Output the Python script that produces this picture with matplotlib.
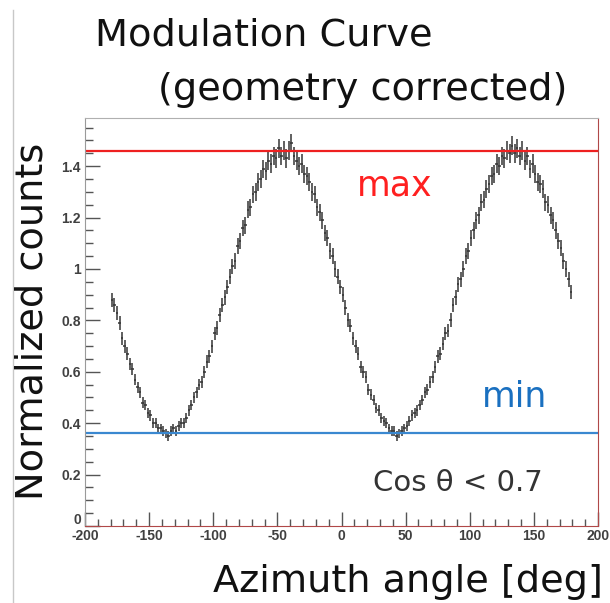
import matplotlib
matplotlib.use("Agg")
import matplotlib.pyplot as plt
from matplotlib.ticker import MultipleLocator, FormatStrFormatter, FuncFormatter
from matplotlib.lines import Line2D
import numpy as np

plt.rcParams['axes.unicode_minus'] = False

# azimuth bins, 2 deg wide, centres from -179 to 179
angle = np.arange(-179, 180, 2)

# normalized counts, four quarters of 45 bins
counts_q1 = [0.88, 0.86, 0.83, 0.79, 0.73, 0.70, 0.67, 0.63, 0.61, 0.57,
             0.54, 0.52, 0.48, 0.47, 0.44, 0.43, 0.40, 0.40, 0.38, 0.38,
             0.37, 0.36, 0.35, 0.37, 0.38, 0.37, 0.39, 0.40, 0.40, 0.42,
             0.45, 0.47, 0.50, 0.52, 0.55, 0.56, 0.60, 0.64, 0.66, 0.70,
             0.75, 0.77, 0.82, 0.86, 0.89]
counts_q2 = [0.93, 0.97, 1.01, 1.03, 1.09, 1.11, 1.16, 1.17, 1.23, 1.24,
             1.29, 1.30, 1.34, 1.35, 1.39, 1.38, 1.42, 1.41, 1.44, 1.43,
             1.47, 1.44, 1.46, 1.43, 1.46, 1.49, 1.44, 1.42, 1.40, 1.41,
             1.37, 1.36, 1.34, 1.30, 1.29, 1.24, 1.22, 1.19, 1.14, 1.12,
             1.07, 1.05, 1.00, 0.97, 0.93]
counts_q3 = [0.90, 0.85, 0.80, 0.78, 0.73, 0.70, 0.67, 0.62, 0.60, 0.58,
             0.53, 0.51, 0.49, 0.46, 0.45, 0.42, 0.41, 0.40, 0.38, 0.37,
             0.37, 0.35, 0.36, 0.37, 0.38, 0.39, 0.41, 0.43, 0.44, 0.45,
             0.47, 0.49, 0.52, 0.53, 0.56, 0.58, 0.62, 0.66, 0.67, 0.71,
             0.75, 0.76, 0.80, 0.86, 0.89]
counts_q4 = [0.94, 0.96, 1.00, 1.05, 1.07, 1.12, 1.15, 1.19, 1.21, 1.26,
             1.27, 1.31, 1.33, 1.36, 1.37, 1.41, 1.40, 1.44, 1.43, 1.46,
             1.45, 1.48, 1.45, 1.47, 1.44, 1.46, 1.42, 1.44, 1.39, 1.41,
             1.37, 1.34, 1.33, 1.31, 1.26, 1.25, 1.21, 1.19, 1.15, 1.11,
             1.08, 1.03, 1.00, 0.96, 0.91]
counts = np.array(counts_q1 + counts_q2 + counts_q3 + counts_q4)
err = 0.03 * np.sqrt(counts)  # statistical error

max_level = 1.46
min_level = 0.363

W, H = 610, 603
fig = plt.figure(figsize=(W / 100, H / 100), dpi=100)

def fx(px):
    return px / W

def fy(py):
    return 1 - py / H

ax = fig.add_axes([fx(85), fy(526), (598 - 85) / W, (526 - 118) / H])
ax.errorbar(angle, counts, yerr=err, xerr=1.0, fmt='none',
            ecolor='#353535', elinewidth=1.1, capsize=0)
ax.axhline(max_level, color='#ee2020', lw=1.6)
ax.axhline(min_level, color='#3a88d0', lw=1.6)

ax.set_xlim(-200, 200)
ax.set_ylim(0, 1.5875)
ax.xaxis.set_major_locator(MultipleLocator(50))
ax.xaxis.set_minor_locator(MultipleLocator(10))
ax.yaxis.set_major_locator(MultipleLocator(0.2))
ax.yaxis.set_minor_locator(MultipleLocator(0.05))
ax.xaxis.set_major_formatter(FormatStrFormatter('%g'))
# the y "0" sits in the corner, drawn by hand a bit higher below
ax.yaxis.set_major_formatter(FuncFormatter(lambda v, p: '' if abs(v) < 1e-9 else '%g' % v))
ax.tick_params(which='both', direction='in', color='#555555', width=1)
ax.tick_params(axis='y', which='major', length=11, pad=3)
ax.tick_params(axis='y', which='minor', length=6)
ax.tick_params(axis='x', which='major', length=10, pad=2)
ax.tick_params(axis='x', which='minor', length=5)
tick_font = dict(family='Liberation Sans', weight='bold', size=10, color='#404040')
for lab in ax.get_xticklabels() + ax.get_yticklabels():
    lab.set_fontfamily(tick_font['family'])
    lab.set_fontweight(tick_font['weight'])
    lab.set_fontsize(tick_font['size'])
    lab.set_color(tick_font['color'])
fig.text(fx(81), fy(520), '0', ha='right', va='center', **tick_font)

ax.spines['left'].set_color('#9a9a9a')
ax.spines['top'].set_color('#b0b0b0')
ax.spines['right'].set_color('#b04848')
ax.spines['bottom'].set_color('#b04848')

big = dict(family='DejaVu Sans', color='#111111')
fig.text(fx(95), fy(45), 'Modulation Curve', fontsize=27.5, va='baseline', **big)
fig.text(fx(158), fy(100), '(geometry corrected)', fontsize=27.5, va='baseline', **big)
fig.text(fx(408), fy(592), 'Azimuth angle [deg]', fontsize=27.5,
         ha='center', va='baseline', **big)
fig.text(fx(33), fy(321), 'Normalized counts', fontsize=27.5, rotation=90,
         ha='center', va='center', **big)

fig.text(fx(395), fy(185), 'max', fontsize=25, color='#ff2020',
         ha='center', va='center', family='DejaVu Sans')
fig.text(fx(515), fy(397), 'min', fontsize=25, color='#1a70c0',
         ha='center', va='center', family='DejaVu Sans')
fig.text(fx(458), fy(483), 'Cos θ < 0.7', fontsize=21, color='#333333',
         ha='center', va='center', family='DejaVu Sans')

# thin grey slide border on the left
fig.add_artist(Line2D([fx(13), fx(13)], [0, fy(10)], color='#c8c8c8', lw=1))

fig.savefig('out.png', dpi=100)
